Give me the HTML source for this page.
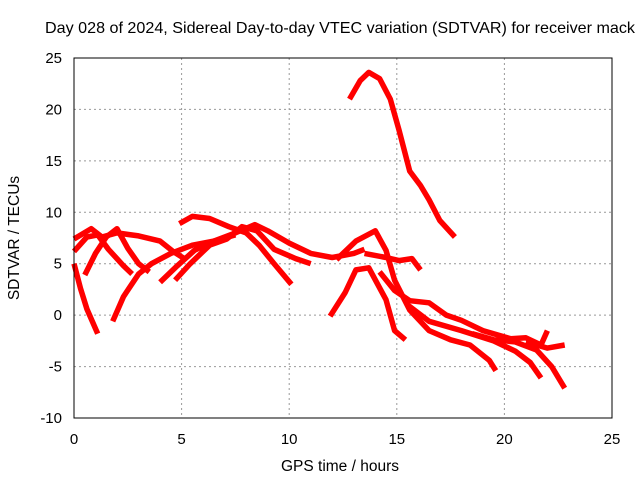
<!DOCTYPE html>
<html><head><meta charset="utf-8"><style>
html,body{margin:0;padding:0;background:#fff;}
svg{display:block;font-family:"Liberation Sans",sans-serif;}
</style></head><body>
<svg id="chart" width="640" height="480" viewBox="0 0 640 480">
<text x="340" y="33" font-size="15.8" text-anchor="middle" textLength="590" lengthAdjust="spacingAndGlyphs">Day 028 of 2024, Sidereal Day-to-day VTEC variation (SDTVAR) for receiver mack</text>
<g id="grid"></g>
<g id="ticks"></g>
<g id="series"></g>
<rect x="74" y="58" width="538" height="360" fill="none" stroke="#000" stroke-width="1"/>
<text x="340" y="471" font-size="15.5" text-anchor="middle">GPS time / hours</text>
<text transform="translate(19,238) rotate(-90)" font-size="15.5" text-anchor="middle">SDTVAR / TECUs</text>
</svg>
<script>
const xTicks=[0,5,10,15,20,25];
const yTicks=[-10,-5,0,5,10,15,20,25];
const trackA=[[0,7.4],[0.8,8.4],[1.3,7.6],[2,8.0],[3,7.7],[4,7.2],[4.6,6.2],[5.2,5.4]];
const trackB=[[0,5.0],[0.3,2.6],[0.6,0.6],[1.1,-1.8]];
const trackC=[[0.5,3.9],[1,6],[1.5,7.6],[2,8.4],[2.5,6.5],[3,5],[3.5,4.2]];
const trackD=[[0,6.2],[0.6,7.6],[1.1,7.8],[1.6,6.4],[2.3,4.8],[2.7,4]];
const trackE=[[1.8,-0.6],[2.3,1.8],[3,4],[3.6,5],[4.5,6],[5.5,6.8],[6.5,7.2],[7.5,7.8]];
const trackF=[[4.9,8.9],[5.5,9.6],[6.3,9.4],[7.2,8.6],[8,8],[8.6,6.8],[9.3,5],[10.1,3]];
const trackG=[[4,3.2],[4.8,4.8],[5.6,6.3],[6.5,7.2],[7.5,8],[8.4,8.8],[9,8.2],[10,7],[11,6],[12,5.6],[13,6],[13.5,6.4]];
const trackH=[[4.7,3.4],[5.4,5],[6.3,6.8],[7.1,7.4],[7.8,8.6],[8.5,8.2],[9.3,6.4],[10.3,5.5],[11,5]];
const trackI=[[11.9,-0.1],[12.6,2.2],[13.1,4.4],[13.7,4.6],[14.5,1.5],[14.9,-1.5],[15.4,-2.4]];
const trackJ=[[12.8,21],[13.3,22.8],[13.7,23.6],[14.2,23],[14.7,21],[15.1,18],[15.6,14],[16.1,12.6],[16.5,11.2],[17,9.2],[17.7,7.6]];
const trackK=[[12.2,5.4],[13.1,7.2],[14,8.2],[14.5,6.3],[14.9,3.4],[15.6,0.5],[16.5,-1.5],[17.5,-2.4],[18.4,-2.9],[19.3,-4.4],[19.6,-5.4]];
const trackL=[[13.5,6],[14.5,5.6],[15.1,5.3],[15.7,5.5],[16.1,4.4]];
const trackM=[[14.2,4.2],[14.9,2.4],[15.6,1.4],[16.5,1.2],[17.3,0],[18,-0.5],[19,-1.5],[20.3,-2.3],[21,-2.2],[21.7,-2.9],[22,-1.5]];
const trackN=[[15.5,1],[16.5,-0.6],[18,-1.5],[19.5,-2.5],[20.5,-3.5],[21.2,-4.6],[21.7,-6.1]];
const trackO=[[18.5,-1.8],[19.5,-2.4],[20.5,-2.6],[21.5,-3.4],[22.2,-5],[22.8,-7.1]];
const trackP=[[21,-2.6],[22,-3.2],[22.8,-2.9]];
const tracks=[trackA,trackB,trackC,trackD,trackE,trackF,trackG,trackH,trackI,trackJ,trackK,trackL,trackM,trackN,trackO,trackP];
const X0=74,X1=612,Y0=418,Y1=58;
function sx(h){return X0+(h-0)/(25-0)*(X1-X0);}
function sy(v){return Y0-(v+10)/(35)*(Y0-Y1);}
const NS="http://www.w3.org/2000/svg";
const grid=document.getElementById('grid'),ticks=document.getElementById('ticks'),ser=document.getElementById('series');
xTicks.forEach(t=>{
 const x=sx(t);
 if(t>0&&t<25){const l=document.createElementNS(NS,'line');
 l.setAttribute('x1',x);l.setAttribute('x2',x);l.setAttribute('y1',Y1);l.setAttribute('y2',Y0);
 l.setAttribute('stroke','#999');l.setAttribute('stroke-dasharray','2,3');
 
 
 grid.appendChild(l);}
 const tx=document.createElementNS(NS,'text');
 tx.setAttribute('x',x);tx.setAttribute('y',444);tx.setAttribute('font-size','15');tx.setAttribute('text-anchor','middle');
 tx.textContent=t;
 
 
 ticks.appendChild(tx);
});
yTicks.forEach(t=>{
 const y=sy(t);
 if(t>-10&&t<25){const l=document.createElementNS(NS,'line');
 l.setAttribute('x1',X0);l.setAttribute('x2',X1);l.setAttribute('y1',y);l.setAttribute('y2',y);
 l.setAttribute('stroke','#999');l.setAttribute('stroke-dasharray','2,3');
 
 
 grid.appendChild(l);}
 const tx=document.createElementNS(NS,'text');
 tx.setAttribute('x',62);tx.setAttribute('y',y+5);tx.setAttribute('font-size','15');tx.setAttribute('text-anchor','end');
 tx.textContent=t;
 
 
 ticks.appendChild(tx);
});
tracks.forEach(tr=>{
 const p=document.createElementNS(NS,'polyline');
 p.setAttribute('points',tr.map(d=>sx(d[0]).toFixed(1)+','+sy(d[1]).toFixed(1)).join(' '));
 p.setAttribute('fill','none');p.setAttribute('stroke','#f00');p.setAttribute('stroke-width','5.5');
 p.setAttribute('stroke-linejoin','round');p.setAttribute('stroke-linecap','butt');
 
 
 ser.appendChild(p);
});
</script>
</body></html>
